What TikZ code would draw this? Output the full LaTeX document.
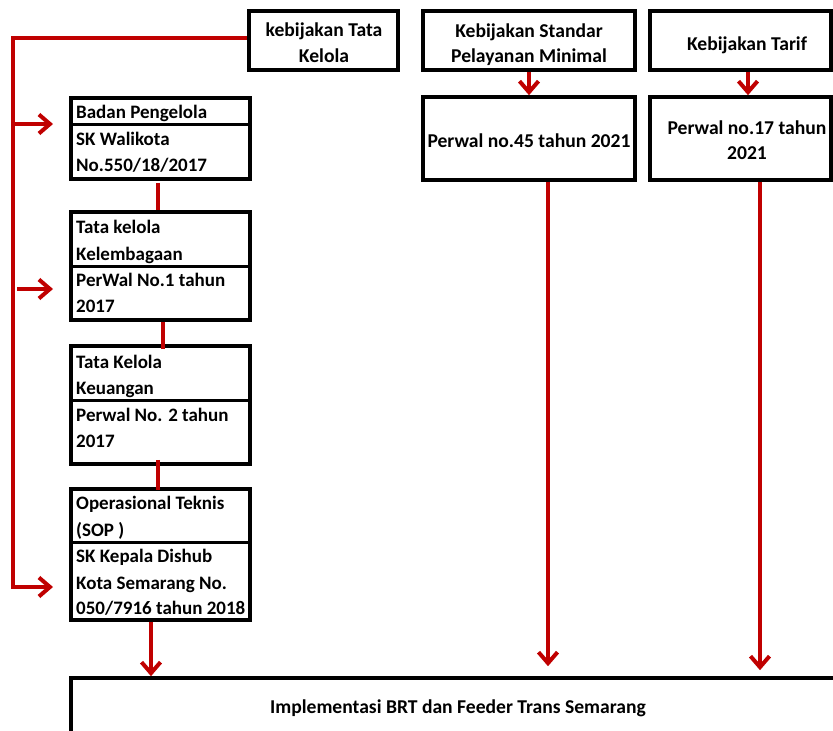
\documentclass[tikz,border=0pt]{standalone}
\usepackage{fontspec}
\setmainfont{Carlito}
\usetikzlibrary{arrows.meta}
\definecolor{dred}{RGB}{192,0,0}
\begin{document}
\begin{tikzpicture}[x=1pt,y=-1pt,
  box/.style={draw=black, line width=3.6pt, inner sep=0pt, fill=none},
  div/.style={draw=black, line width=3pt},
  rl/.style={draw=dred, line width=4pt, line join=miter},
  arr/.style={-{Straight Barb[length=11pt,width=19pt,line width=4pt]}},
  tx/.style={font=\fontsize{19.6}{22}\selectfont\bfseries, inner sep=0pt, anchor=base},
  lx/.style={tx, font=\fontsize{19}{22}\selectfont\bfseries, anchor=base west}]
\useasboundingbox (0,0) rectangle (833,731);
% top boxes
\node[box, minimum width=149pt, minimum height=59pt] (tk) at (323.5,40.5) {};
\node[box, minimum width=212pt, minimum height=59pt] (ks) at (529,40.5) {};
\node[box, minimum width=181pt, minimum height=59pt] (kt) at (740.5,40.5) {};
\node[box, minimum width=212pt, minimum height=83pt] (p45) at (529,138.5) {};
\node[box, minimum width=181pt, minimum height=83pt] (p17) at (740.5,138.5) {};
% left column
\node[box, minimum width=179pt, minimum height=81pt] (b1) at (160.5,138.5) {};
\node[box, minimum width=179pt, minimum height=108pt] (b2) at (160.5,266) {};
\node[box, minimum width=179pt, minimum height=118pt] (b3) at (160.5,405) {};
\node[box, minimum width=179pt, minimum height=131pt] (b4) at (160.5,554.5) {};
\draw[div] (b1.west |- 0,124) -- (b1.east |- 0,124);
\draw[div] (b2.west |- 0,266) -- (b2.east |- 0,266);
\draw[div] (b3.west |- 0,400) -- (b3.east |- 0,400);
\draw[div] (b4.west |- 0,542) -- (b4.east |- 0,542);
% bottom box
\node[box, minimum width=774pt, minimum height=82pt] (im) at (458,719) {};
% texts
\node[tx] (t1) at (324,36) {kebijakan Tata};
\node[tx] (t2) at (324,62) {Kelola};
\node[tx] (t3) at (529,37) {Kebijakan Standar};
\node[tx] (t4) at (529,62) {Pelayanan Minimal};
\node[tx] (t5) at (747,50) {Kebijakan Tarif};
\node[tx] (t6) at (529,147) {Perwal no.45 tahun 2021};
\node[tx] (t7) at (747,134) {Perwal no.17 tahun};
\node[tx] (t8) at (747,159) {2021};
\node[lx] (l1) at (76,118) {Badan Pengelola};
\node[lx] (l2) at (76,145) {SK Walikota};
\node[lx] (l3) at (76,171) {No.550/18/2017};
\node[lx] (l4) at (76,233) {Tata kelola};
\node[lx] (l5) at (76,260) {Kelembagaan};
\node[lx] (l6) at (76,286) {PerWal No.1 tahun};
\node[lx] (l7) at (76,312) {2017};
\node[lx] (l8) at (76,368) {Tata Kelola};
\node[lx] (l9) at (76,394) {Keuangan};
\node[lx] (l10) at (76,421) {Perwal No. 2 tahun};
\node[lx] (l11) at (76,447) {2017};
\node[lx] (l12) at (76,509) {Operasional Teknis};
\node[lx] (l13) at (76,536) {(SOP )};
\node[lx] (l14) at (76,562) {SK Kepala Dishub};
\node[lx] (l15) at (76,589) {Kota Semarang No.};
\node[lx] (l16) at (76,614) {050/7916 tahun 2018};
\node[tx] (t9) at (458,713) {Implementasi BRT dan Feeder Trans Semarang};
% bus connectors
\coordinate (bb) at (13,587);
\coordinate (s1) at (13,124);
\coordinate (s2) at (17,289);
\coordinate (a1) at (53,124);
\coordinate (a2) at (53,289);
\coordinate (a3) at (53,587);
\draw[rl, arr] ([yshift=2.5pt]tk.west) -| (bb) -- (a3);
\draw[rl, arr] (s1) -- (a1);
\draw[rl, arr] (s2) -- (a2);
% links between left boxes
\draw[rl] ([xshift=-2.5pt]b1.south) ++(0,2) -- ([xshift=-2.5pt]b2.north);
\draw[rl] ([xshift=2.5pt]b2.south) -- ([xshift=2.5pt,yshift=-5pt]b3.north);
\draw[rl] ([xshift=-2.5pt,yshift=6pt]b3.south) -- ([xshift=-2.5pt,yshift=-3pt]b4.north);
\draw[rl, arr] ([xshift=-9.5pt]b4.south) -- (im.north -| 151,0);
% right arrows
\draw[rl, arr] (ks.south) -- (p45.north);
\draw[rl, arr] ([xshift=7.5pt]kt.south) -- ([xshift=7.5pt]p17.north);
\draw[rl, arr] ([xshift=19pt]p45.south) -- ([yshift=10pt]im.north -| 548,0);
\draw[rl, arr] ([xshift=19.5pt]p17.south) -- ([yshift=6pt]im.north -| 760,0);
\end{tikzpicture}
\end{document}
